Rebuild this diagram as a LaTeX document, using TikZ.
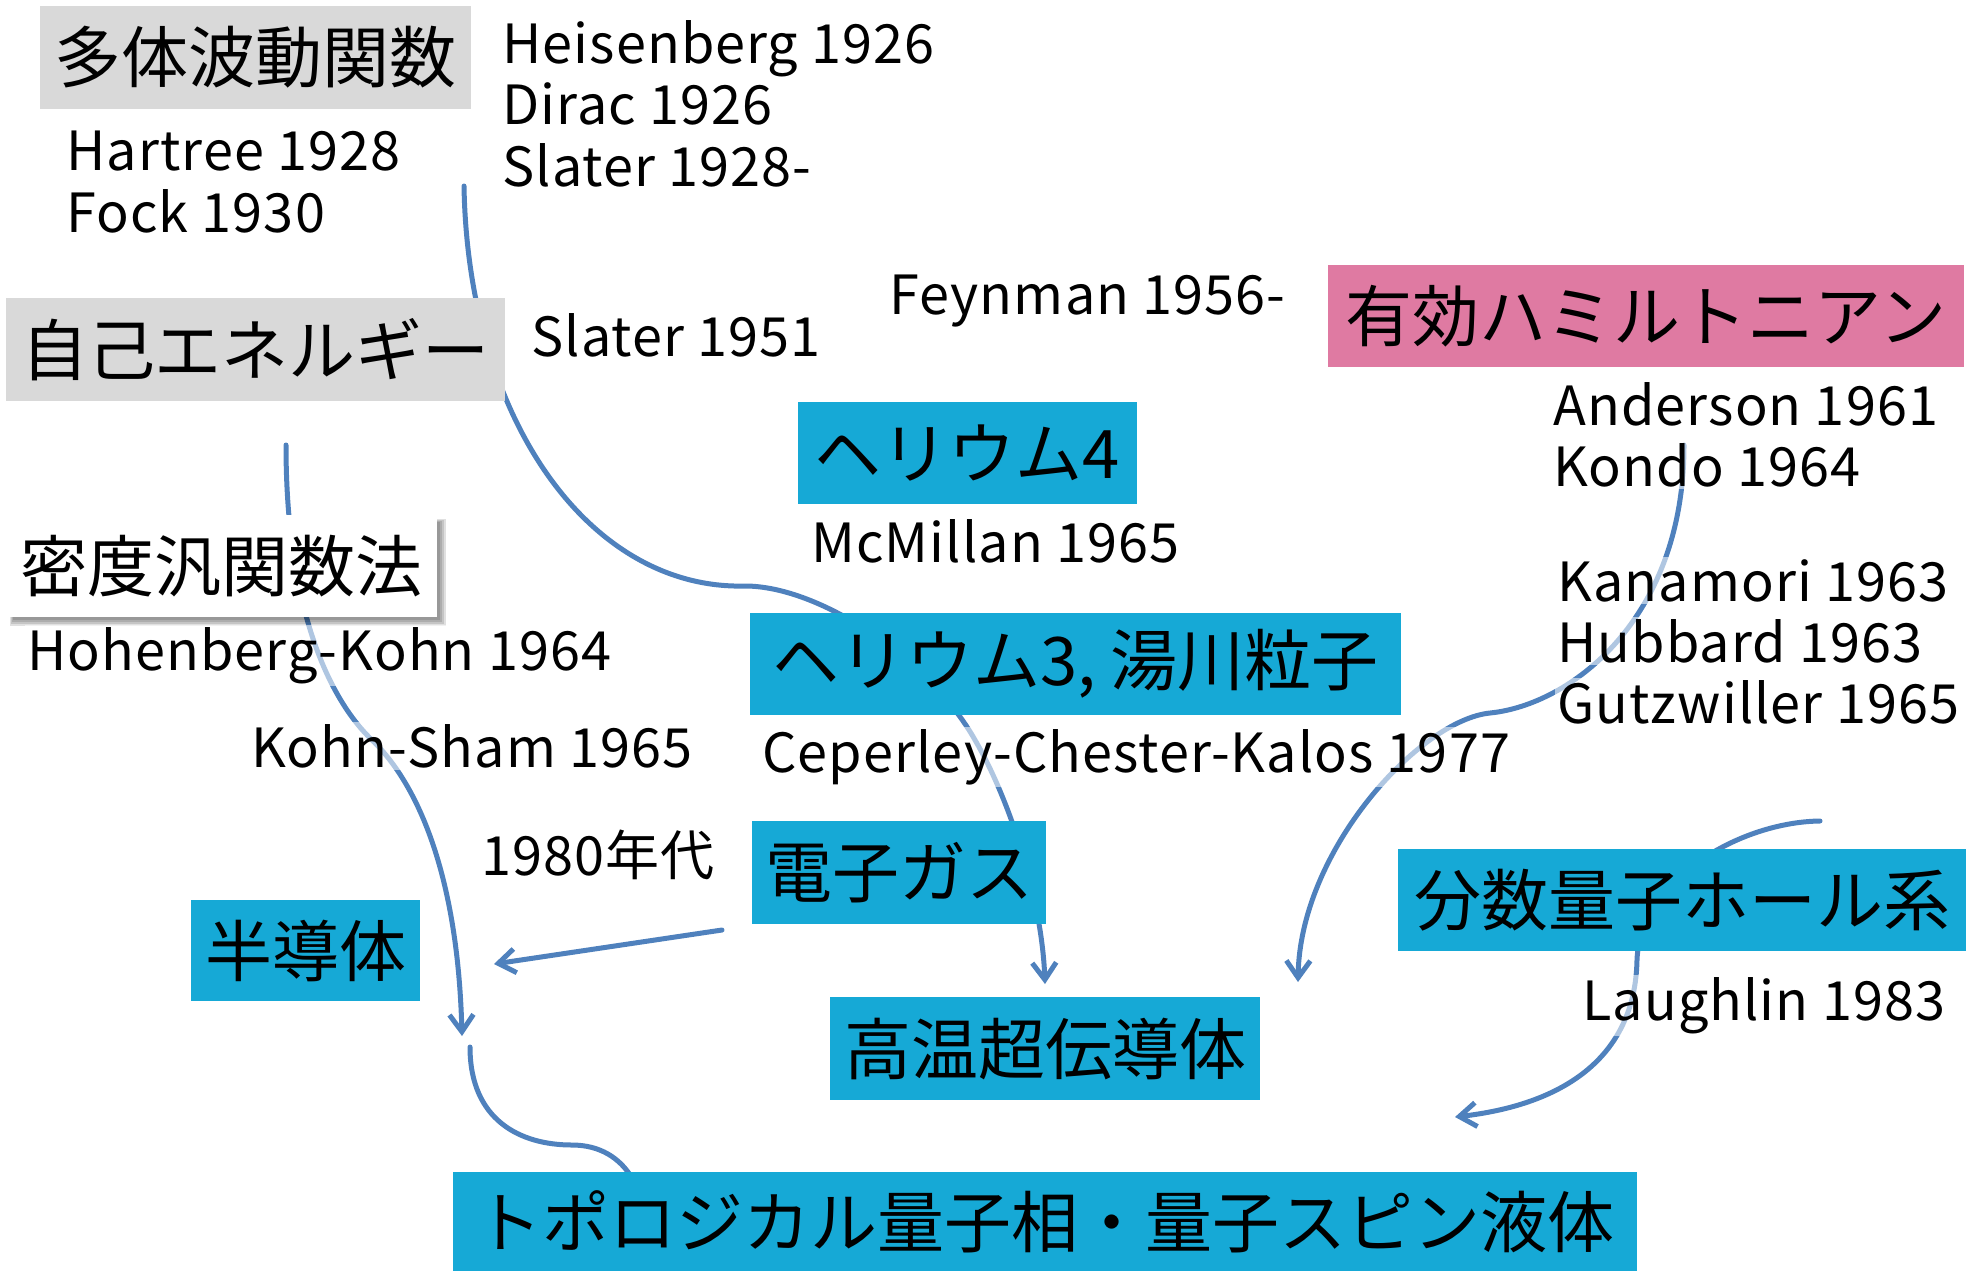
\documentclass[tikz,border=0pt]{standalone}
\usepackage{fontspec}
\setmainfont{Noto Sans CJK JP}
\usetikzlibrary{arrows.meta,backgrounds}
\definecolor{boxblue}{HTML}{16A9D6}
\definecolor{boxpink}{HTML}{DF7AA2}
\definecolor{boxgray}{HTML}{D9D9D9}
\definecolor{linkblue}{HTML}{4F81BD}
\tikzset{
 box/.style={rectangle, inner sep=0pt, font=\fontsize{33.5}{40}\selectfont, text=black},
 bluebox/.style={box, fill=boxblue},
 lbl/.style={anchor=base west, inner xsep=1pt, inner ysep=1pt, fill=white, fill opacity=0.55, text opacity=1, font=\fontsize{27}{32}\selectfont\addfontfeature{LetterSpace=2}},
 link/.style={draw=linkblue, line width=2.5pt, line cap=round},
 arrowend/.style={-{Straight Barb[length=8.5pt,width=12pt]}},
 softshadow/.style={fill=black, fill opacity=0.12},
}
\begin{document}
\begin{tikzpicture}[x=0.5pt,y=-0.5pt]
\useasboundingbox (0,0) rectangle (1966,1271);
% boxes
\node[box, fill=boxgray, minimum width=215.5pt, minimum height=51.5pt] (many) at (255.5,57.5) {多体波動関数};
\node[box, fill=boxgray, minimum width=249.5pt, minimum height=51.5pt] (self) at (255.5,349.5) {自己エネルギー};
\fill[softshadow] (10,519) rectangle (446,626);
\fill[softshadow] (11,520) rectangle (444,624);
\fill[softshadow] (12,521) rectangle (442,622);
\fill[softshadow] (13,522) rectangle (440,620);
\node[box, fill=white, minimum width=215.5pt, minimum height=51pt] (dft) at (221.5,566) {密度汎関数法};
\node[box, fill=boxpink, minimum width=318pt, minimum height=51pt] (effh) at (1646,316) {有効ハミルトニアン};
\node[bluebox, minimum width=169.5pt, minimum height=51pt] (he4) at (967.5,453) {ヘリウム4};
\node[bluebox, minimum width=325.5pt, minimum height=51pt] (he3) at (1075.5,664) {ヘリウム3, 湯川粒子};
\node[bluebox, minimum width=147pt, minimum height=51.5pt] (egas) at (899,872.5) {電子ガス};
\node[bluebox, minimum width=114.5pt, minimum height=50.5pt] (semi) at (305.5,950.5) {半導体};
\node[bluebox, minimum width=215pt, minimum height=51.5pt] (htc) at (1045,1048.5) {高温超伝導体};
\node[bluebox, minimum width=284pt, minimum height=51pt] (fqhe) at (1682,900) {分数量子ホール系};
\node[bluebox, minimum width=592pt, minimum height=49.5pt] (topo) at (1045,1221.5) {トポロジカル量子相・量子スピン液体};
% labels
\node[lbl] (heis) at (500,63) {Heisenberg 1926};
\node[lbl] (dirac) at (500,124.5) {Dirac 1926};
\node[lbl] (slat28) at (500,186.5) {Slater 1928-};
\node[lbl] (hart) at (64,170.6) {Hartree 1928};
\node[lbl] (fock) at (64,232) {Fock 1930};
\node[lbl] (slat51) at (529,356) {Slater 1951};
\node[lbl] (feyn) at (887,314) {Feynman 1956-};
\node[lbl] (ander) at (1551,425) {Anderson 1961};
\node[lbl] (kondo) at (1551,486.5) {Kondo 1964};
\node[lbl] (kana) at (1555,601) {Kanamori 1963};
\node[lbl] (hubb) at (1555,662) {Hubbard 1963};
\node[lbl] (gutz) at (1555,723) {Gutzwiller 1965};
\node[lbl] (mcm) at (809,562) {McMillan 1965};
\node[lbl] (hk) at (25,670) {Hohenberg-Kohn 1964};
\node[lbl] (ks) at (249,767) {Kohn-Sham 1965};
\node[lbl] (cck) at (760,772) {Ceperley-Chester-Kalos 1977};
\node[lbl] (y1980) at (479,875) {1980年代};
\node[lbl] (laugh) at (1580,1020) {Laughlin 1983};
% connector ends
\coordinate (a1) at (464,186);
\coordinate (a2) at (745,586);
\coordinate (a3) at (975,740);
\coordinate (a4) at (1045,984);
\coordinate (b1) at (286,445);
\coordinate (b2) at (372,740);
\coordinate (b3) at (462,1036);
\coordinate (c1) at (470,1047);
\coordinate (c2) at (572,1145);
\coordinate (c3) at (632,1178);
\coordinate (d1) at (722,930);
\coordinate (d2) at (494,964);
\coordinate (e1) at (1684,445);
\coordinate (e2) at (1490,713);
\coordinate (e3) at (1298,982);
\coordinate (f1) at (1820,821);
\coordinate (f2) at (1637,960);
\coordinate (f3) at (1455,1117);
\begin{pgfonlayer}{background}
\draw[link, arrowend] (a1) .. controls (468,420) and (590,590) .. (a2)
  .. controls (820,586) and (930,660) .. (a3)
  .. controls (1010,800) and (1042,900) .. (a4);
\draw[link, arrowend] (b1) .. controls (286,610) and (330,700) .. (b2)
  .. controls (420,786) and (458,880) .. (b3);
\draw[link] (c1) .. controls (470,1120) and (520,1145) .. (c2)
  .. controls (600,1145) and (620,1158) .. (c3);
\draw[link, arrowend] (d1) -- (d2);
\draw[link, arrowend] (e1) .. controls (1684,620) and (1570,705) .. (e2)
  .. controls (1420,720) and (1300,850) .. (e3);
\draw[link, arrowend] (f1) .. controls (1740,822) and (1640,880) .. (f2)
  .. controls (1635,1060) and (1560,1105) .. (f3);
\end{pgfonlayer}
\end{tikzpicture}
\end{document}
